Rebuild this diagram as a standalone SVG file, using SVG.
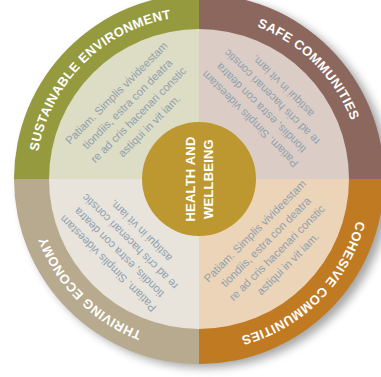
<svg xmlns="http://www.w3.org/2000/svg" width="381" height="377" viewBox="0 0 381 377">
<defs>
<filter id="sh" x="-20%" y="-20%" width="140%" height="140%">
<feGaussianBlur stdDeviation="5"/>
</filter>
<path id="arcTL" d="M36,179 A163,163 0 0 1 199,16"/>
<path id="arcTR" d="M199,16 A163,163 0 0 1 362,179"/>
<path id="arcBR" d="M362,179 A163,163 0 0 1 199,342"/>
<path id="arcBL" d="M199,342 A163,163 0 0 1 36,179"/>
</defs>
<style>
.ring{font-family:"Liberation Sans",Arial,sans-serif;font-weight:bold;font-size:13px;fill:#ffffff;letter-spacing:0.4px}
.body{font-family:"Liberation Sans",Arial,sans-serif;font-size:11.2px;fill:#8fa1af;text-anchor:middle}
.hw{font-family:"Liberation Sans",Arial,sans-serif;font-weight:bold;font-size:13px;fill:#ffffff;text-anchor:middle;letter-spacing:0.2px}
</style>
<rect width="381" height="377" fill="#ffffff"/>
<circle cx="205" cy="183" r="185" fill="#000000" opacity="0.35" filter="url(#sh)"/>

<g id="sustainable-environment">
<path d="M199,179 L14,179 A185,185 0 0 1 199,-6 Z" fill="#949a3d"/>
<path d="M199,179 L49,179 A150,150 0 0 1 199,29 Z" fill="#dddcc4"/>
<text class="ring"><textPath href="#arcTL" startOffset="50%" text-anchor="middle">SUSTAINABLE ENVIRONMENT</textPath></text>
<g class="body" transform="translate(133.5,110) rotate(-45)">
<text x="0" y="-20.25">Patiam. Simplis vivideestam</text>
<text x="0" y="-4.75">tiondiis, estra con deatra</text>
<text x="0" y="10.75">re ad cris hacenari constic</text>
<text x="0" y="26.25">astiqui in vit iam.</text>
</g>
</g>

<g id="safe-communities">
<path d="M199,179 L199,-6 A185,185 0 0 1 384,179 Z" fill="#8c675e"/>
<path d="M199,179 L199,29 A150,150 0 0 1 349,179 Z" fill="#dbcdc5"/>
<text class="ring"><textPath href="#arcTR" startOffset="50%" text-anchor="middle">SAFE COMMUNITIES</textPath></text>
<g class="body" transform="translate(267,102) rotate(-135)">
<text x="0" y="-20.25">Patiam. Simplis videestam</text>
<text x="0" y="-4.75">tiondiis, estra con deatra</text>
<text x="0" y="10.75">re ad cris hacenari constic</text>
<text x="0" y="26.25">astiqui in vit iam.</text>
</g>
</g>

<g id="cohesive-communities">
<path d="M199,179 L384,179 A185,185 0 0 1 199,364 Z" fill="#c07a22"/>
<path d="M199,179 L349,179 A150,150 0 0 1 199,329 Z" fill="#ecd4b8"/>
<text class="ring"><textPath href="#arcBR" startOffset="50%" text-anchor="middle">COHESIVE COMMUNITIES</textPath></text>
<g class="body" transform="translate(272,248) rotate(-45)">
<text x="0" y="-20.25">Patiam. Simplis vivideestam</text>
<text x="0" y="-4.75">tiondiis, estra con deatra</text>
<text x="0" y="10.75">re ad cris hacenari constic</text>
<text x="0" y="26.25">astiqui in vit iam.</text>
</g>
</g>

<g id="thriving-economy">
<path d="M199,179 L199,364 A185,185 0 0 1 14,179 Z" fill="#b7aa8e"/>
<path d="M199,179 L199,329 A150,150 0 0 1 49,179 Z" fill="#e8e4dc"/>
<text class="ring"><textPath href="#arcBL" startOffset="50%" text-anchor="middle">THRIVING ECONOMY</textPath></text>
<g class="body" transform="translate(125,246.5) rotate(-135)">
<text x="0" y="-20.25">Patiam. Simplis videestam</text>
<text x="0" y="-4.75">tiondiis, estra con deatra</text>
<text x="0" y="10.75">re ad cris hacenari constic</text>
<text x="0" y="26.25">astiqui in vit iam.</text>
</g>
</g>

<g id="health-and-wellbeing">
<circle cx="199" cy="179" r="57" fill="#bd9830"/>
<g transform="translate(199,179) rotate(-90)">
<text class="hw" x="0" y="-4">HEALTH AND</text>
<text class="hw" x="0" y="14">WELLBEING</text>
</g>
</g>

<g id="connectors"></g>
</svg>
